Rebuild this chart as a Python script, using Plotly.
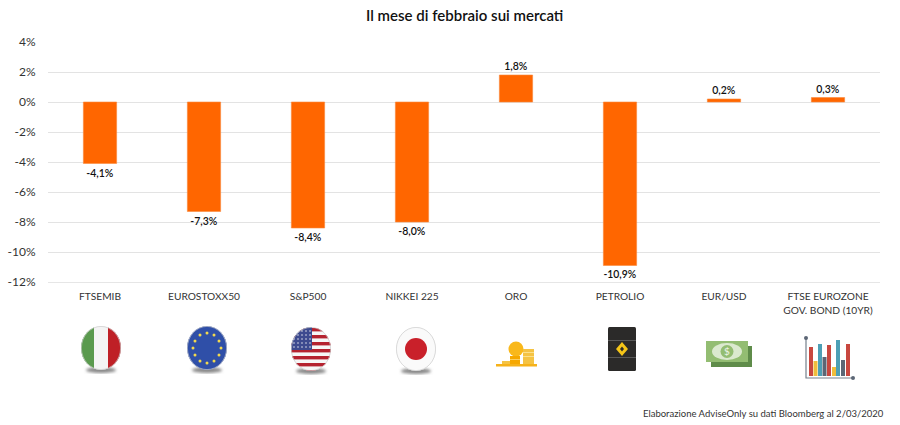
import base64
import plotly.graph_objects as go

categories = ["FTSEMIB", "EUROSTOXX50", "S&P500", "NIKKEI 225", "ORO", "PETROLIO", "EUR/USD",
              "FTSE EUROZONE<br>GOV. BOND (10YR)"]
values = [-4.1, -7.3, -8.4, -8.0, 1.8, -10.9, 0.2, 0.3]
y_ticks = [4, 2, 0, -2, -4, -6, -8, -10, -12]

FONT = "Lato, 'Open Sans', sans-serif"
ORANGE = "#FF6600"
LEFT, RIGHT, TOP, BOTTOM = 48, 880, 42, 282


def shadow(cx, cy, rx):
    return (f'<filter id="b"><feGaussianBlur stdDeviation="1.5"/></filter>'
            f'<ellipse cx="{cx}" cy="{cy}" rx="{rx}" ry="3" fill="#888" filter="url(#b)"/>')


def flag(inner):
    # round flag, 40 wide, 44 high plus a bit of room for the shadow
    return ('<clipPath id="c"><ellipse cx="20" cy="22" rx="20" ry="22"/></clipPath>'
            + shadow(20, 44, 15) + f'<g clip-path="url(#c)">{inner}</g>'
            + '<ellipse cx="20" cy="22" rx="19.6" ry="21.6" fill="none" stroke="#ccc" stroke-width=".7"/>')


eu_stars = "".join(
    f'<circle cx="{x}" cy="{y}" r="1.5" fill="#f2d94e"/>'
    for x, y in [(20, 7), (27, 9), (32, 15), (34, 22), (32, 29), (27, 35),
                 (20, 37), (13, 35), (8, 29), (6, 22), (8, 15), (13, 9)])
us_stripes = "".join(
    f'<rect x="0" y="{y}" width="40" height="3.4" fill="#b5222f"/>' for y in range(1, 44, 7))
us_stars = "".join(
    f'<circle cx="{x}" cy="{y}" r=".7" fill="#fff"/>'
    for y in range(4, 23, 4) for x in range(3, 20, 4))

icon_italy = flag('<rect width="40" height="44" fill="#f4f4f4"/>'
                  '<rect width="13" height="44" fill="#5a9a4e"/>'
                  '<rect x="27" width="13" height="44" fill="#bf2026"/>')
icon_eu = flag('<rect width="40" height="44" fill="#2f4fa8"/>' + eu_stars)
icon_us = flag('<rect width="40" height="44" fill="#f6f6f6"/>' + us_stripes
               + '<rect width="21" height="23" fill="#3d4a8f"/>' + us_stars)
icon_japan = flag('<rect width="40" height="44" fill="#fafafa"/>'
                  '<circle cx="20" cy="22" r="11" fill="#c9202a"/>')
icon_gold = ('<circle cx="20" cy="8" r="7.500" fill="#f9b81b"/>'
             '<rect x="27" y="8" width="11" height="15" fill="#f5c343"/>'
             '<rect x="27" y="11" width="11" height="1" fill="#fbe08c"/>'
             '<rect x="27" y="15" width="11" height="1" fill="#fbe08c"/>'
             '<rect x="14" y="15" width="10" height="8" fill="#f6a800"/>'
             '<rect x="14" y="18" width="10" height="1" fill="#fbd062"/>'
             '<rect x="6" y="20" width="8" height="3" fill="#f5c343"/>'
             '<rect x="0" y="23" width="41" height="2.500" fill="#f6b21a"/>')
icon_barrel = ('<rect width="28" height="44" rx="1.5" fill="#2b2a29"/>'
               '<rect y="13" width="28" height=".8" fill="#666"/>'
               '<rect y="30" width="28" height=".8" fill="#666"/>'
               '<path d="M14 15 L20 22 L14 29 L8 22 Z" fill="#f5c518"/>'
               '<path d="M14 19.5 L16 22 L14 24.5 L12 22 Z" fill="#2b2a29"/>')
icon_cash = ('<rect x="5" y="5" width="41" height="21" fill="#5f8c4a"/>'
             '<rect width="42" height="21" fill="#93bd72"/>'
             '<ellipse cx="21" cy="10.5" rx="15" ry="8.5" fill="#dbe9cf"/>'
             '<circle cx="21" cy="10.5" r="6.5" fill="#93bd72"/>'
             '<text x="21" y="14" font-size="10" font-family="Lato" text-anchor="middle" fill="#eef5e8">$</text>')
icon_chart = ('<path d="M2 3 V43 H49" fill="none" stroke="#76808c" stroke-width="1.2"/>'
              '<circle cx="2" cy="3" r="2" fill="#5c6675"/><circle cx="49" cy="43" r="2" fill="#5c6675"/>'
              '<rect x="5" y="12" width="4" height="29" fill="#c8473f"/>'
              '<rect x="9.5" y="26" width="4" height="15" fill="#f0bd3c"/>'
              '<rect x="14" y="9" width="4" height="32" fill="#4d9fb5"/>'
              '<rect x="18.5" y="22" width="4" height="19" fill="#5c6675"/>'
              '<rect x="23" y="10" width="4" height="31" fill="#c8473f"/>'
              '<rect x="28" y="32" width="4" height="9" fill="#f0bd3c"/>'
              '<rect x="32" y="5" width="4" height="36" fill="#4d9fb5"/>'
              '<rect x="37" y="25" width="4" height="16" fill="#5c6675"/>'
              '<rect x="42" y="9" width="4" height="32" fill="#c8473f"/>')

# svg body, left, top, width, height in page pixels
icons = [
    (icon_italy, 81, 326, 40, 50),
    (icon_eu, 187, 326, 40, 50),
    (icon_us, 291, 327, 40, 50),
    (icon_japan, 396, 327, 40, 50),
    (icon_gold, 496, 341, 42, 26),
    (icon_barrel, 608, 327, 28, 44),
    (icon_cash, 706, 341, 46, 26),
    (icon_chart, 804, 335, 52, 46),
]


def svg_uri(body, w, h):
    svg = f'<svg xmlns="http://www.w3.org/2000/svg" width="{w}" height="{h}" viewBox="0 0 {w} {h}">{body}</svg>'
    return "data:image/svg+xml;base64," + base64.b64encode(svg.encode()).decode()


plot_w = RIGHT - LEFT
plot_h = BOTTOM - TOP
images = [
    dict(source=svg_uri(body, w, h), xref="paper", yref="paper",
         x=(left - LEFT) / plot_w, y=1 - (top - TOP) / plot_h,
         sizex=w / plot_w, sizey=h / plot_h,
         xanchor="left", yanchor="top", sizing="stretch", layer="above")
    for body, left, top, w, h in icons
]

fig = go.Figure(go.Bar(
    x=categories, y=values,
    text=[f"{v:.1f}%".replace(".", ",") for v in values],
    textposition="outside", cliponaxis=False,
    textfont=dict(family=FONT, size=10.5, color="#111111", weight=600),
    marker=dict(color=ORANGE, line=dict(color="#FA8A3C", width=0.6)),
    width=0.32,
))

fig.update_layout(
    width=900, height=425,
    margin=dict(l=LEFT, r=900 - RIGHT, t=TOP, b=425 - BOTTOM, pad=0),
    paper_bgcolor="white", plot_bgcolor="white",
    showlegend=False,
    font=dict(family=FONT, size=12, color="#333333"),
    images=images,
    annotations=[
        dict(text="Il mese di febbraio sui mercati", xref="paper", yref="paper",
             x=0.5, y=1, yshift=27, yanchor="middle", showarrow=False,
             font=dict(family=FONT, size=15, color="#111111", weight=600)),
        dict(text="Elaborazione AdviseOnly su dati Bloomberg al 2/03/2020", xref="paper", yref="paper",
             x=(886 - LEFT) / plot_w, y=1 - (413 - TOP) / plot_h, xanchor="right", yanchor="middle",
             showarrow=False, font=dict(family=FONT, size=9.5, color="#333333")),
    ],
)
fig.update_xaxes(automargin=False, showgrid=False, zeroline=False, showline=True, linecolor="#E6E6E6", linewidth=1,
                 ticks="outside", ticklen=5, tickcolor="white", tickfont=dict(size=10.2))
fig.update_yaxes(automargin=False, range=[-12, 4], tickvals=y_ticks, ticktext=[f"{t}%" for t in y_ticks],
                 showgrid=True, gridcolor="#E3E3E3", gridwidth=1, zeroline=False,
                 ticks="outside", ticklen=9, tickcolor="white", tickfont=dict(size=12))

# the page's default body margin would push the whole figure 8px down and right
fig.write_html("out.html", config={"displayModeBar": False},
               post_script="document.body.style.margin = '0';")
